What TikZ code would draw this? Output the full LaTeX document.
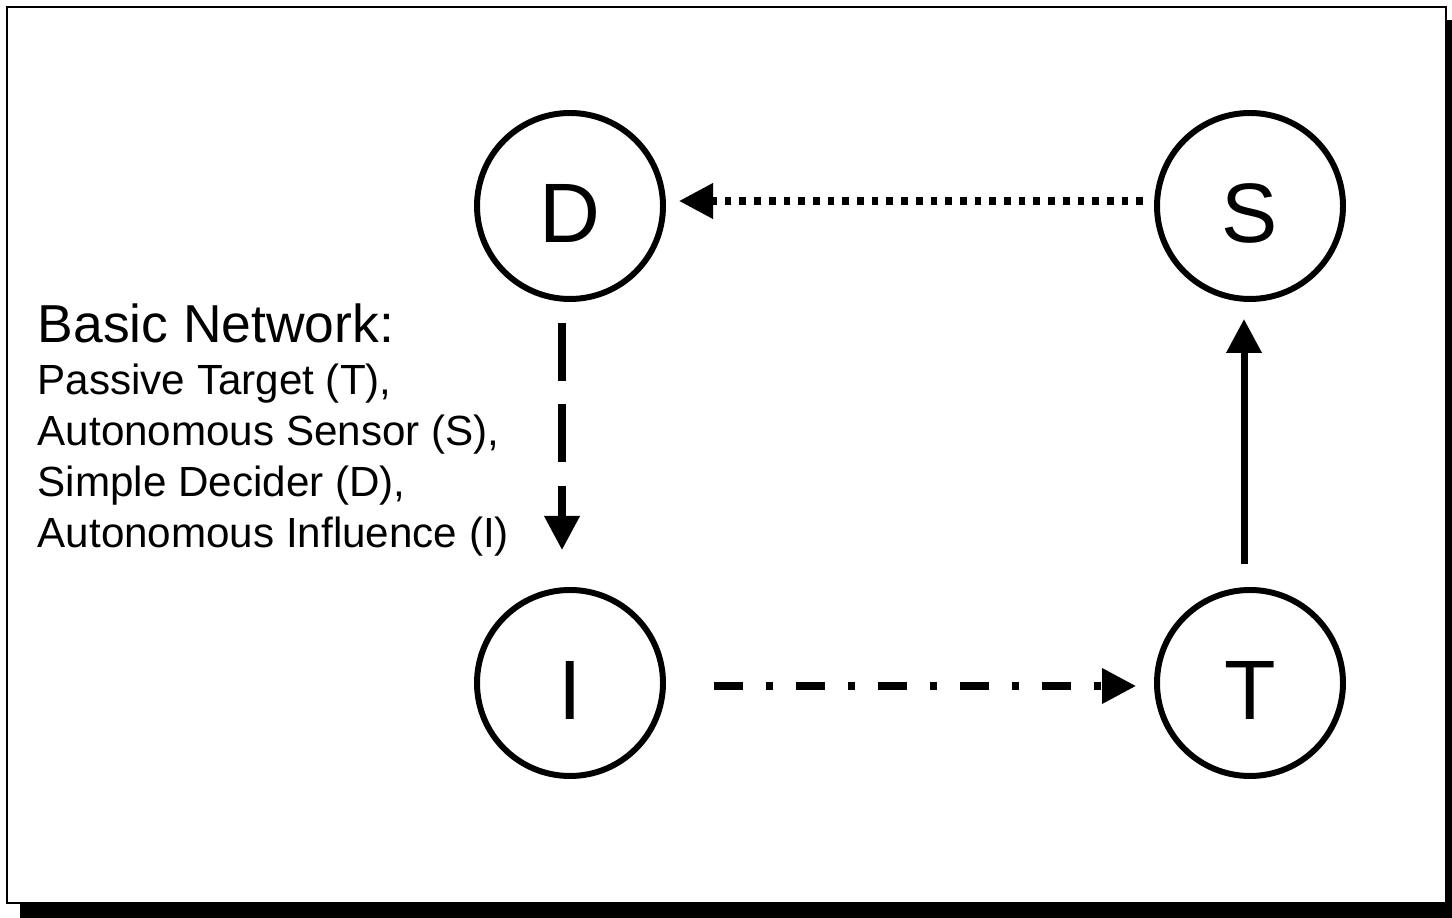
\documentclass[tikz,border=0pt]{standalone}
\usepackage{fontspec}
\setmainfont{Liberation Sans}
\usetikzlibrary{arrows.meta}

\tikzset{
  agent/.style={draw,circle,line width=1.7pt,minimum size=1.86cm,inner sep=0pt,text height=0.73cm,text depth=0pt,font=\fontsize{24}{28}\selectfont},
  flow/.style={line width=2pt,-{Triangle[length=0.34cm,width=0.34cm]}},
  legend/.style={anchor=base west,inner sep=0pt,font=\fontsize{12}{14}\selectfont}
}

\begin{document}
\begin{tikzpicture}
\useasboundingbox (0,0) rectangle (14.52,9.18);

%frame
\fill[black] (0.20,0) rectangle (14.52,8.98);
\draw[line width=0.6pt,fill=white] (0.07,0.15) rectangle (14.46,9.11);

%agents
\node[agent] (D) at (5.70,7.12) {D};
\node[agent] (S) at (12.50,7.12) {S};
\node[agent] (I) at (5.70,2.35) {I};
\node[agent] (T) at (12.50,2.35) {T};

%links
\draw[flow,dash pattern=on 0.067cm off 0.08cm] ([xshift=-1.07cm,yshift=0.05cm]S.center) -- ([xshift=1.09cm,yshift=0.05cm]D.center);
\draw[flow,dash pattern=on 0.58cm off 0.235cm] ([xshift=-0.08cm,yshift=-1.17cm]D.center) -- ([xshift=-0.08cm,yshift=1.33cm]I.center);
\draw[flow,dash pattern=on 0.29cm off 0.23cm on 0.07cm off 0.23cm] ([xshift=1.44cm,yshift=-0.03cm]I.center) -- ([xshift=-1.14cm,yshift=-0.03cm]T.center);
\draw[flow] ([xshift=-0.06cm,yshift=1.19cm]T.center) -- ([xshift=-0.06cm,yshift=-1.13cm]S.center);

%legend
\node[legend,font=\fontsize{15.2}{18}\selectfont] (title) at (0.37,5.75) {Basic Network:};
\node[legend] (l1) at (0.37,5.23) {Passive Target (T),};
\node[legend] (l2) at (0.37,4.72) {Autonomous Sensor (S),};
\node[legend] (l3) at (0.37,4.21) {Simple Decider (D),};
\node[legend] (l4) at (0.37,3.70) {Autonomous Influence (I)};

\end{tikzpicture}
\end{document}
